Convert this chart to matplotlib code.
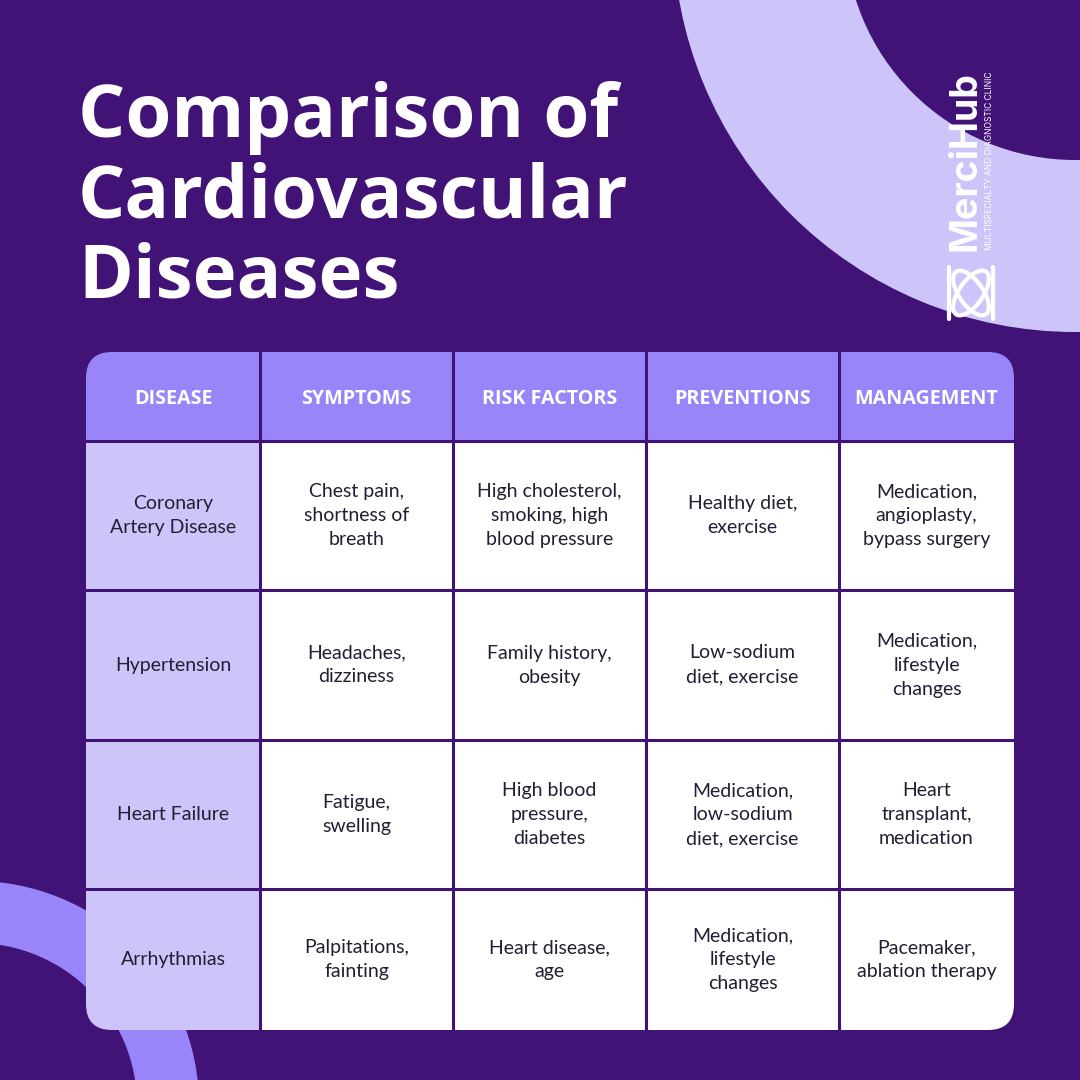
import matplotlib
matplotlib.use("Agg")
import matplotlib.pyplot as plt
from matplotlib.patches import Rectangle, FancyBboxPatch, Wedge, Ellipse

BG = "#421377"
HEAD = "#9885fa"
LIGHT = "#cdc5f9"
TXT = "#241d33"

title_lines = ["Comparison of", "Cardiovascular", "Diseases"]
headers = ["DISEASE", "SYMPTOMS", "RISK FACTORS", "PREVENTIONS", "MANAGEMENT"]
diseases = ["Coronary\nArtery Disease", "Hypertension", "Heart Failure", "Arrhythmias"]
symptoms = ["Chest pain,\nshortness of\nbreath", "Headaches,\ndizziness",
            "Fatigue,\nswelling", "Palpitations,\nfainting"]
risk_factors = ["High cholesterol,\nsmoking, high\nblood pressure", "Family history,\nobesity",
                "High blood\npressure,\ndiabetes", "Heart disease,\nage"]
preventions = ["Healthy diet,\nexercise", "Low-sodium\ndiet, exercise",
               "Medication,\nlow-sodium\ndiet, exercise", "Medication,\nlifestyle\nchanges"]
management = ["Medication,\nangioplasty,\nbypass surgery", "Medication,\nlifestyle\nchanges",
              "Heart\ntransplant,\nmedication", "Pacemaker,\nablation therapy"]

# layout (pixels)
col_edges = [86, 260, 453, 646, 839, 1014]
row_edges = [352, 441, 590, 740, 889, 1030]

fig = plt.figure(figsize=(10.8, 10.8), dpi=100)
fig.patch.set_facecolor(BG)
ax = fig.add_axes([0, 0, 1, 1])
ax.set_xlim(0, 1080)
ax.set_ylim(1080, 0)
ax.set_aspect("equal")
ax.axis("off")
ax.set_facecolor(BG)

# decorative rings
ax.add_patch(Wedge((1075, -70), 402, 0, 360, width=172, facecolor=LIGHT, edgecolor="none"))
ax.add_patch(Wedge((-25, 1105), 224, 0, 360, width=62, facecolor=HEAD, edgecolor="none"))

# title, one line at a time
for k, line in enumerate(title_lines):
    ax.text(78, 137 + 80 * k, line, color="white", fontsize=53.5, fontweight="bold",
            family="Open Sans", va="baseline", ha="left")

# logo
ax.text(966, 251, "MerciHub", rotation=90, color="white", fontsize=27, fontweight="bold",
        family="Inter", ha="center", va="bottom")
ax.text(989, 250, "MULTISPECIALTY AND DIAGNOSTIC CLINIC", rotation=90, color="white",
        fontsize=6.1, family="Inter", ha="center", va="bottom")
ax.add_patch(Ellipse((971, 293), 52, 24, angle=55, facecolor="none", edgecolor="white", lw=3))
ax.add_patch(Ellipse((971, 293), 52, 24, angle=125, facecolor="none", edgecolor="white", lw=3))
ax.plot([949, 949], [267, 319], color="white", lw=3, solid_capstyle="round")
ax.plot([993, 993], [267, 319], color="white", lw=3, solid_capstyle="round")

# table
clip = FancyBboxPatch((col_edges[0], row_edges[0]), col_edges[-1] - col_edges[0],
                      row_edges[-1] - row_edges[0], boxstyle="round,pad=0,rounding_size=26",
                      facecolor="none", edgecolor="none")
ax.add_patch(clip)

columns = [diseases, symptoms, risk_factors, preventions, management]
for j in range(len(headers)):
    x0, x1 = col_edges[j], col_edges[j + 1]
    r = Rectangle((x0, row_edges[0]), x1 - x0, row_edges[1] - row_edges[0], facecolor=HEAD, edgecolor="none")
    ax.add_patch(r)
    r.set_clip_path(clip)
    ax.text((x0 + x1) / 2, (row_edges[0] + row_edges[1]) / 2 + 2, headers[j], color="white", fontsize=14.2,
            fontweight="bold", family="Open Sans", ha="center", va="center")
    for i, val in enumerate(columns[j]):
        y0, y1 = row_edges[i + 1], row_edges[i + 2]
        r = Rectangle((x0, y0), x1 - x0, y1 - y0, facecolor=LIGHT if j == 0 else "white", edgecolor="none")
        ax.add_patch(r)
        r.set_clip_path(clip)
        ax.text((x0 + x1) / 2, (y0 + y1) / 2, val, color=TXT, fontsize=14, family="Lato",
                ha="center", va="center", linespacing=1.5, multialignment="center")

for x in col_edges[1:-1]:
    ax.plot([x, x], [row_edges[0], row_edges[-1]], color=BG, lw=2.2)
for y in row_edges[1:-1]:
    ax.plot([col_edges[0], col_edges[-1]], [y, y], color=BG, lw=2.2)

fig.savefig("out.png", dpi=100, facecolor=BG)
